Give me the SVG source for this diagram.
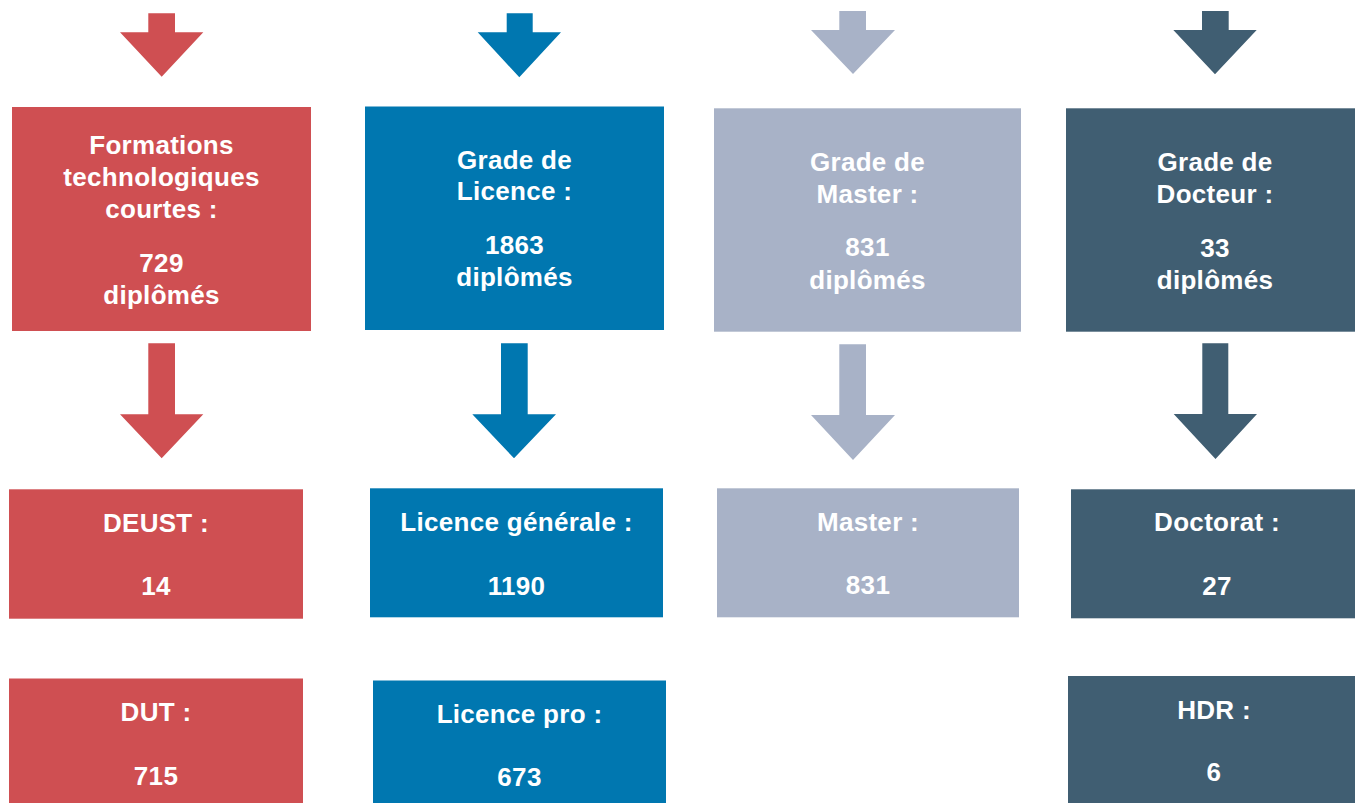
<svg xmlns="http://www.w3.org/2000/svg" width="1355" height="803" viewBox="0 0 1355 803">
<style>
.red{fill:#CF4F52}
.blue{fill:#0077B0}
.light{fill:#A8B2C7}
.dark{fill:#405E72}
text{font-family:"Liberation Sans",Arial,sans-serif;font-weight:bold;font-size:26px;letter-spacing:0.3px;fill:#FFFFFF;text-anchor:middle}
</style>
<rect width="1355" height="803" fill="#FFFFFF"/>
<g id="connectors">
<polygon class="red" points="148.3,13.3 175,13.3 175,32.3 203.3,32.3 161.7,76.7 120,32.3 148.3,32.3"/>
<polygon class="blue" points="506.7,13.3 532.7,13.3 532.7,32.3 561,32.3 519.3,77.3 477.7,32.3 506.7,32.3"/>
<polygon class="light" points="839.3,11 866,11 866,30 895,30 853,74 811,30 839.3,30"/>
<polygon class="dark" points="1202,11 1228.7,11 1228.7,30 1256.7,30 1215,74.3 1173.3,30 1202,30"/>
<polygon class="red" points="148.3,343.3 175,343.3 175,414.3 203.3,414.3 161.7,458.3 120,414.3 148.3,414.3"/>
<polygon class="blue" points="501,343.3 527.7,343.3 527.7,414.3 556,414.3 514,458.3 472.3,414.3 501,414.3"/>
<polygon class="light" points="839.3,344.3 866,344.3 866,415 895,415 853,460 811,415 839.3,415"/>
<polygon class="dark" points="1202.3,343.3 1228.3,343.3 1228.3,414 1257,414 1215.5,459 1173.7,414 1202.3,414"/>
</g>
<g id="formations">
<rect class="red" x="12" y="107" width="299" height="224"/>
<text x="161.5" y="154">Formations</text>
<text x="161.5" y="186">technologiques</text>
<text x="161.5" y="218">courtes :</text>
<text x="161.5" y="272">729</text>
<text x="161.5" y="304">diplômés</text>
</g>
<g id="licence">
<rect class="blue" x="365" y="106.5" width="299" height="223.5"/>
<text x="514.5" y="169">Grade de</text>
<text x="514.5" y="200">Licence :</text>
<text x="514.5" y="254">1863</text>
<text x="514.5" y="286">diplômés</text>
</g>
<g id="master">
<rect class="light" x="714" y="108.3" width="307" height="223.4"/>
<text x="867.5" y="171">Grade de</text>
<text x="867.5" y="203">Master :</text>
<text x="867.5" y="256">831</text>
<text x="867.5" y="289">diplômés</text>
</g>
<g id="docteur">
<rect class="dark" x="1066" y="108.3" width="289" height="223.4"/>
<text x="1215" y="171">Grade de</text>
<text x="1215" y="203">Docteur :</text>
<text x="1215" y="257">33</text>
<text x="1215" y="289">diplômés</text>
</g>
<g id="deust">
<rect class="red" x="9" y="489.3" width="294" height="129.4"/>
<text x="156" y="532">DEUST :</text>
<text x="156" y="595">14</text>
</g>
<g id="dut">
<rect class="red" x="9" y="678.5" width="294" height="124.5"/>
<text x="156" y="721">DUT :</text>
<text x="156" y="785">715</text>
</g>
<g id="licence-generale">
<rect class="blue" x="370" y="488.3" width="293" height="129"/>
<text x="516.5" y="531">Licence générale :</text>
<text x="516.5" y="595">1190</text>
</g>
<g id="licence-pro">
<rect class="blue" x="373" y="680.5" width="293" height="122.5"/>
<text x="519.5" y="723">Licence pro :</text>
<text x="519.5" y="786">673</text>
</g>
<g id="master-detail">
<rect class="light" x="717" y="488.3" width="302" height="129"/>
<text x="868" y="531">Master :</text>
<text x="868" y="594">831</text>
</g>
<g id="doctorat">
<rect class="dark" x="1071" y="489.3" width="284" height="129"/>
<text x="1217" y="531">Doctorat :</text>
<text x="1217" y="595">27</text>
</g>
<g id="hdr">
<rect class="dark" x="1068" y="676" width="287" height="127"/>
<text x="1214" y="719">HDR :</text>
<text x="1214" y="781">6</text>
</g>
</svg>
